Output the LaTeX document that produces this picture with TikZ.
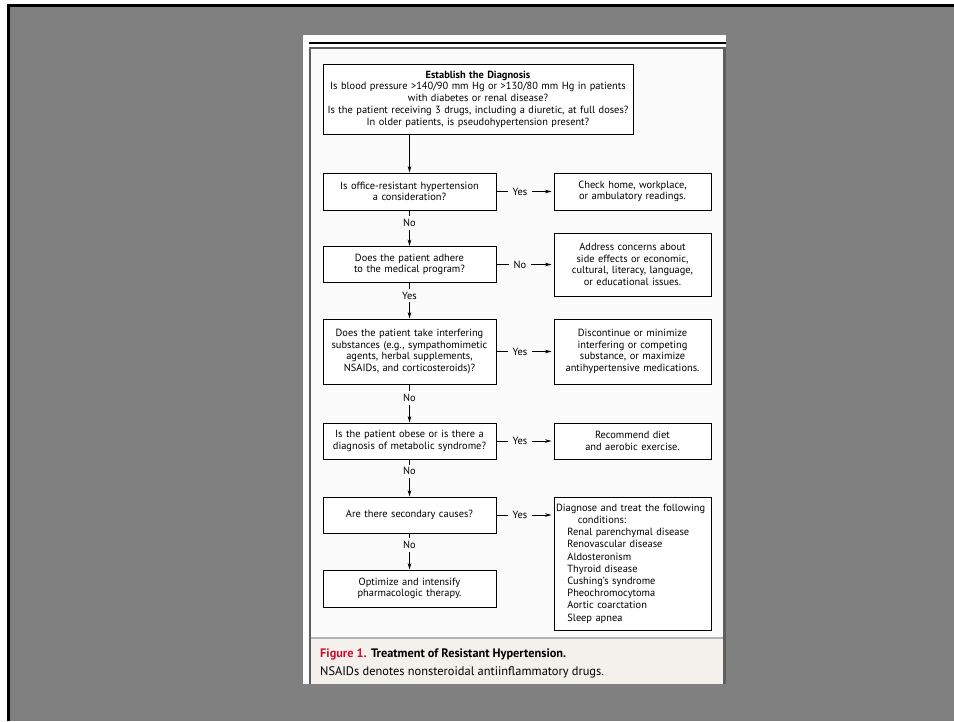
\documentclass[tikz,border=0pt]{standalone}
\usepackage{fontspec}
\setmainfont{PT Sans}
\usetikzlibrary{arrows.meta,positioning}
\definecolor{slide}{HTML}{808080}
\definecolor{rahmen}{HTML}{5E5E5E}
\definecolor{innen}{HTML}{FAFAFA}
\definecolor{capbg}{HTML}{F4F1EC}
\definecolor{capred}{HTML}{C8102E}
\tikzset{
  box/.style={draw=black,line width=1pt,fill=white,align=center,inner sep=2pt,
    font=\fontsize{10.4}{11.7}\selectfont},
  lbox/.style={box,minimum width=173pt,text width=169pt},
  rbox/.style={box,minimum width=157pt,text width=153pt},
  flow/.style={line width=0.8pt,-{Stealth[length=6.5pt,width=3.6pt]}},
  lbl/.style={fill=innen,inner xsep=5pt,inner ysep=3pt,font=\fontsize{10.4}{11}\selectfont},
}

\begin{document}
\begin{tikzpicture}[x=1pt,y=-1pt]
  \useasboundingbox (0,0) rectangle (954,721);
  % slide and panel
  \fill[white] (0,0) rectangle (954,721);
  \fill[slide] (8,5) rectangle (954,721);
  \draw[black,line width=3pt] (8.5,721)--(8.5,5.5)--(954,5.5);
  \fill[white] (303,35) rectangle (726,684);
  \fill[innen] (310,48) rectangle (724,638);
  \fill[capbg] (310,638) rectangle (724,684);
  \draw[black,line width=1.5pt] (309,43)--(726,43);
  \draw[rahmen,line width=2.2pt] (310,684)--(310,48)--(724.5,48)--(724.5,684);
  \draw[gray!60,line width=1.5pt] (311,638)--(723,638);

  % boxes
  \node[box,minimum width=310pt,text width=306pt,minimum height=70pt] (diag) at (478,99)
    {\textbf{Establish the Diagnosis}\\
     Is blood pressure >140/90 mm Hg or >130/80 mm Hg in patients\\
     with diabetes or renal disease?\\
     Is the patient receiving 3 drugs, including a diuretic, at full doses?\\
     In older patients, is pseudohypertension present?};
  \node[lbox,minimum height=37pt] (office) at (409.5,191.5)
    {Is office-resistant hypertension\\ a consideration?};
  \node[rbox,minimum height=37pt] (check) at (632.5,191.5)
    {Check home, workplace,\\ or ambulatory readings.};
  \node[lbox,minimum height=36pt] (adhere) at (409.5,264.5)
    {Does the patient adhere\\ to the medical program?};
  \node[rbox,minimum height=63pt] (address) at (632.5,264.5)
    {Address concerns about\\ side effects or economic,\\ cultural, literacy, language,\\ or educational issues.};
  \node[lbox,minimum height=65pt] (interf) at (409.5,351.5)
    {Does the patient take interfering\\ substances (e.g., sympathomimetic\\ agents, herbal supplements,\\ NSAIDs, and corticosteroids)?};
  \node[rbox,minimum height=65pt] (discont) at (632.5,351.5)
    {Discontinue or minimize\\ interfering or competing\\ substance, or maximize\\ antihypertensive medications.};
  \node[lbox,minimum height=36pt] (obese) at (409.5,441)
    {Is the patient obese or is there a\\ diagnosis of metabolic syndrome?};
  \node[rbox,minimum height=36pt] (diet) at (632.5,441)
    {Recommend diet\\ and aerobic exercise.};
  \node[lbox,minimum height=36pt] (second) at (409.5,515)
    {Are there secondary causes?};
  \node[rbox,minimum height=133pt,align=left,font=\fontsize{10.4}{12.2}\selectfont] (treat) at (632.5,563.5)
    {Diagnose and treat the following\\
     \hspace*{2.1em}conditions:\\
     \hspace*{1.1em}Renal parenchymal disease\\
     \hspace*{1.1em}Renovascular disease\\
     \hspace*{1.1em}Aldosteronism\\
     \hspace*{1.1em}Thyroid disease\\
     \hspace*{1.1em}Cushing's syndrome\\
     \hspace*{1.1em}Pheochromocytoma\\
     \hspace*{1.1em}Aortic coarctation\\
     \hspace*{1.1em}Sleep apnea};
  \node[lbox,minimum height=37pt] (optim) at (409.5,588.5)
    {Optimize and intensify\\ pharmacologic therapy.};

  % connectors
  \draw[flow] (diag.south -| office.north) -- (office.north);
  \draw[flow] (office) -- node[lbl,pos=0.35]{No} (adhere);
  \draw[flow] (adhere) -- node[lbl,pos=0.35]{Yes} (interf);
  \draw[flow] (interf) -- node[lbl,pos=0.35]{No} (obese);
  \draw[flow] (obese) -- node[lbl,pos=0.32]{No} (second);
  \draw[flow] (second) -- node[lbl,pos=0.32]{No} (optim);
  \draw[flow,shorten >=2pt] (office) -- node[lbl,pos=0.41]{Yes} (check);
  \draw[flow,shorten >=2pt] (adhere) -- node[lbl,pos=0.41]{No} (address);
  \draw[flow,shorten >=2pt] (interf) -- node[lbl,pos=0.41]{Yes} (discont);
  \draw[flow,shorten >=2pt] (obese) -- node[lbl,pos=0.41]{Yes} (diet);
  \draw[flow,shorten >=2pt] (second) -- node[lbl,pos=0.41]{Yes} (second -| treat.west);

  % caption
  \node[anchor=west,inner sep=0pt,font=\fontsize{12.3}{14}\selectfont] (captitle) at (320,654)
    {\textcolor{capred}{\textbf{Figure 1.}} \textbf{Treatment of Resistant Hypertension.}};
  \node[anchor=west,inner sep=0pt,font=\fontsize{12.4}{14}\selectfont] (capnote) at (320,672)
    {NSAIDs denotes nonsteroidal antiinflammatory drugs.};
\end{tikzpicture}
\end{document}
